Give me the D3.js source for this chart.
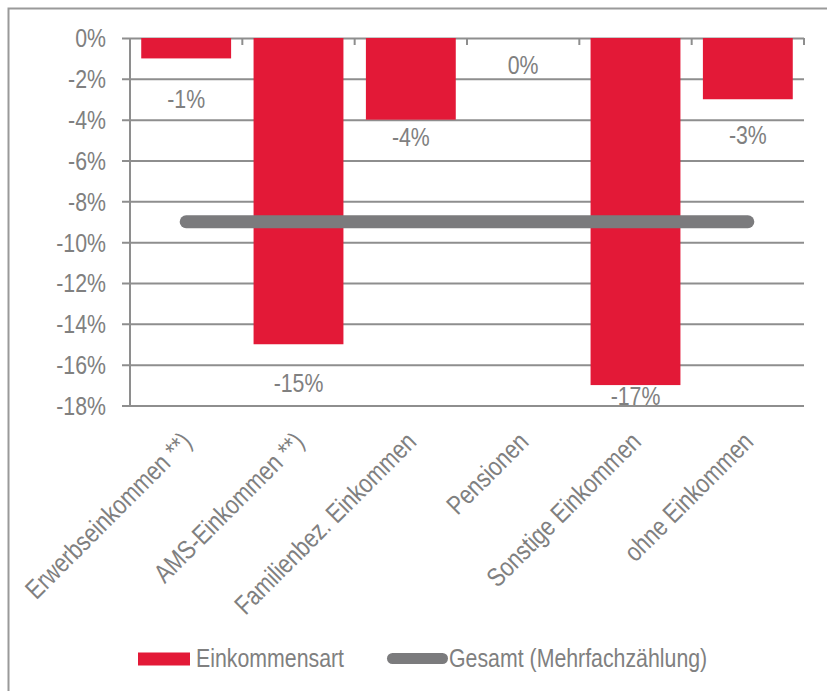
<!DOCTYPE html>
<html>
<head>
<meta charset="utf-8">
<script src="https://cdn.jsdelivr.net/npm/d3@7"></script>
<style>
  html, body { margin: 0; padding: 0; background: #fff; }
  svg { display: block; }
  text { font-family: 'Liberation Sans', Arial, sans-serif; fill: #808080; }
</style>
</head>
<body>
<svg id="chart" width="827" height="691"></svg>
<script>
// Income categories and change per category (percent)
const categories = [
  "Erwerbseinkommen **)",
  "AMS-Einkommen **)",
  "Familienbez. Einkommen",
  "Pensionen",
  "Sonstige Einkommen",
  "ohne Einkommen"
];
const changeByType = [-1, -15, -4, 0, -17, -3];
// Overall change (multiple counting), drawn as a horizontal reference line
const totalChange = [-9, -9, -9, -9, -9, -9];
const yTicks = [0, -2, -4, -6, -8, -10, -12, -14, -16, -18];
const seriesNames = ["Einkommensart", "Gesamt (Mehrfachzählung)"];

// Vertical nudges (px) for the value labels below each bar end
const labelDy = [40, 38, 17, 27, 36, 35];

const svg = d3.select("#chart");
const W = 827, H = 691;
const plot = { left: 130, right: 804, top: 38, bottom: 405.5 };
const red = "#E31937";
const grey = "#7B7B7D";
const gridColor = "#8E8E8E";
const NARROW = 0.82; // horizontal squeeze for a narrow sans look

// text placed at (x,y), optionally rotated, squeezed horizontally
function narrowText(parent, x, y, str, size, anchor, rot) {
  const g = parent.append("g")
    .attr("transform", `translate(${x},${y})${rot ? ` rotate(${rot})` : ""} scale(${NARROW},1)`);
  return g.append("text")
    .attr("text-anchor", anchor)
    .style("font-size", size + "px")
    .text(str);
}

// outer frame
svg.append("rect")
  .attr("x", 8.5).attr("y", 8.5)
  .attr("width", W + 10).attr("height", H + 10)
  .attr("fill", "none").attr("stroke", "#9A9A9A").attr("stroke-width", 2);

const x = d3.scaleBand().domain(categories)
  .range([plot.left, plot.right]).paddingInner(0.2).paddingOuter(0.1);
const xStep = d3.scaleBand().domain(categories)
  .range([plot.left, plot.right]).padding(0);
const y = d3.scaleLinear().domain([-18, 0]).range([plot.bottom, plot.top]);

// gridlines (ticks of the y axis stretched across the plot)
const yAxis = d3.axisLeft(y).tickValues(yTicks)
  .tickSize(-(plot.right - plot.left + 8)).tickSizeOuter(0)
  .tickFormat(d => d + "%");
const yg = svg.append("g").attr("transform", `translate(${plot.left - 8},0)`).call(yAxis);
yg.select(".domain").remove();
yg.selectAll(".tick line").attr("stroke", gridColor).attr("stroke-width", 2);
yg.selectAll(".tick text").remove();

// y tick labels
const yl = svg.append("g");
yTicks.forEach(t => {
  narrowText(yl, plot.left - 24, y(t), t + "%", 26, "end").attr("dy", "0.36em");
});

// y axis line
svg.append("line")
  .attr("x1", plot.left).attr("x2", plot.left)
  .attr("y1", plot.top).attr("y2", plot.bottom)
  .attr("stroke", gridColor).attr("stroke-width", 2);

// category axis at 0 with boundary ticks hanging down
const bounds = categories.map(c => xStep(c) + xStep.bandwidth());
svg.append("g").selectAll("line").data(bounds).join("line")
  .attr("x1", d => d).attr("x2", d => d)
  .attr("y1", y(0)).attr("y2", y(0) + 7)
  .attr("stroke", gridColor).attr("stroke-width", 2);

// bars
svg.append("g").selectAll("rect").data(categories).join("rect")
  .attr("x", c => x(c))
  .attr("y", y(0))
  .attr("width", x.bandwidth())
  .attr("height", (c, i) => y(changeByType[i]) - y(0))
  .attr("fill", red);

// overall line
const line = d3.line()
  .x((d, i) => xStep(categories[i]) + xStep.bandwidth() / 2)
  .y(d => y(d));
svg.append("path")
  .datum(totalChange)
  .attr("d", line)
  .attr("fill", "none").attr("stroke", grey)
  .attr("stroke-width", 13).attr("stroke-linecap", "round");

// value labels
const vl = svg.append("g");
categories.forEach((c, i) => {
  const ly = Math.min(y(changeByType[i]) + labelDy[i], plot.bottom - 10);
  narrowText(vl, x(c) + x.bandwidth() / 2, ly, changeByType[i] + "%", 26, "middle").attr("dy", "0.36em");
});

// rotated category labels
const cl = svg.append("g");
categories.forEach(c => {
  narrowText(cl, xStep(c) + xStep.bandwidth() / 2 + 7, plot.bottom + 38, c, 26.5, "end", -45);
});

// legend
const lg = svg.append("g");
lg.append("rect").attr("x", 138).attr("y", 652.5).attr("width", 52).attr("height", 13).attr("fill", red);
narrowText(lg, 196, 657.5, seriesNames[0], 26, "start").attr("dy", "0.36em");
lg.append("line").attr("x1", 392.5).attr("x2", 442.5).attr("y1", 658.5).attr("y2", 658.5)
  .attr("stroke", grey).attr("stroke-width", 11).attr("stroke-linecap", "round");
narrowText(lg, 449, 657.5, seriesNames[1], 26, "start").attr("dy", "0.36em");
</script>
</body>
</html>
